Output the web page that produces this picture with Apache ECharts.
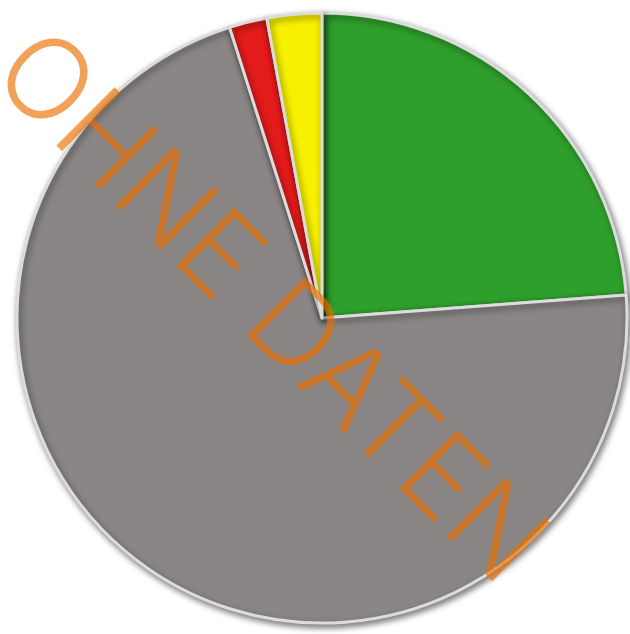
<!DOCTYPE html>
<html>
<head>
<meta charset="utf-8">
<style>
  html, body { margin: 0; padding: 0; background: #ffffff; }
  #chart { width: 630px; height: 634px; }
</style>
<script src="https://cdn.jsdelivr.net/npm/echarts@6/dist/echarts.min.js"></script>
</head>
<body>
<div id="chart"></div>
<script>
// Slice shares, clockwise from 12 o'clock
const categories = ['Grün', 'Grau', 'Rot', 'Gelb'];
const values = [23.8, 71.3, 2.0, 2.9];
const colors = ['#2f9f2c', '#8a8686', '#e31b1b', '#f7f000'];
const watermark = 'OHNE DATEN';

const chart = echarts.init(document.getElementById('chart'), null, { renderer: 'canvas' });

const pieData = categories.map((name, i) => ({
  name: name,
  value: values[i],
  itemStyle: { color: colors[i] }
}));

chart.setOption({
  backgroundColor: '#ffffff',
  animation: false,
  series: [{
    type: 'pie',
    center: [322, 318],
    radius: [0, 305],
    startAngle: 90,
    clockwise: true,
    label: { show: false },
    labelLine: { show: false },
    itemStyle: {
      borderColor: '#dcdcdc',
      borderWidth: 3,
      shadowBlur: 6,
      shadowColor: 'rgba(0,0,0,0.5)',
      shadowOffsetX: 2,
      shadowOffsetY: 3
    },
    emphasis: { disabled: true },
    data: pieData
  }],
  graphic: [{
    type: 'text',
    x: 268,
    y: 309,
    rotation: -Math.PI / 4,
    z: 100,
    style: {
      text: watermark,
      font: '300 113px Inter',
      fill: '#eb6e00',
      opacity: 0.65,
      align: 'center',
      verticalAlign: 'middle'
    }
  }]
});
</script>
</body>
</html>
